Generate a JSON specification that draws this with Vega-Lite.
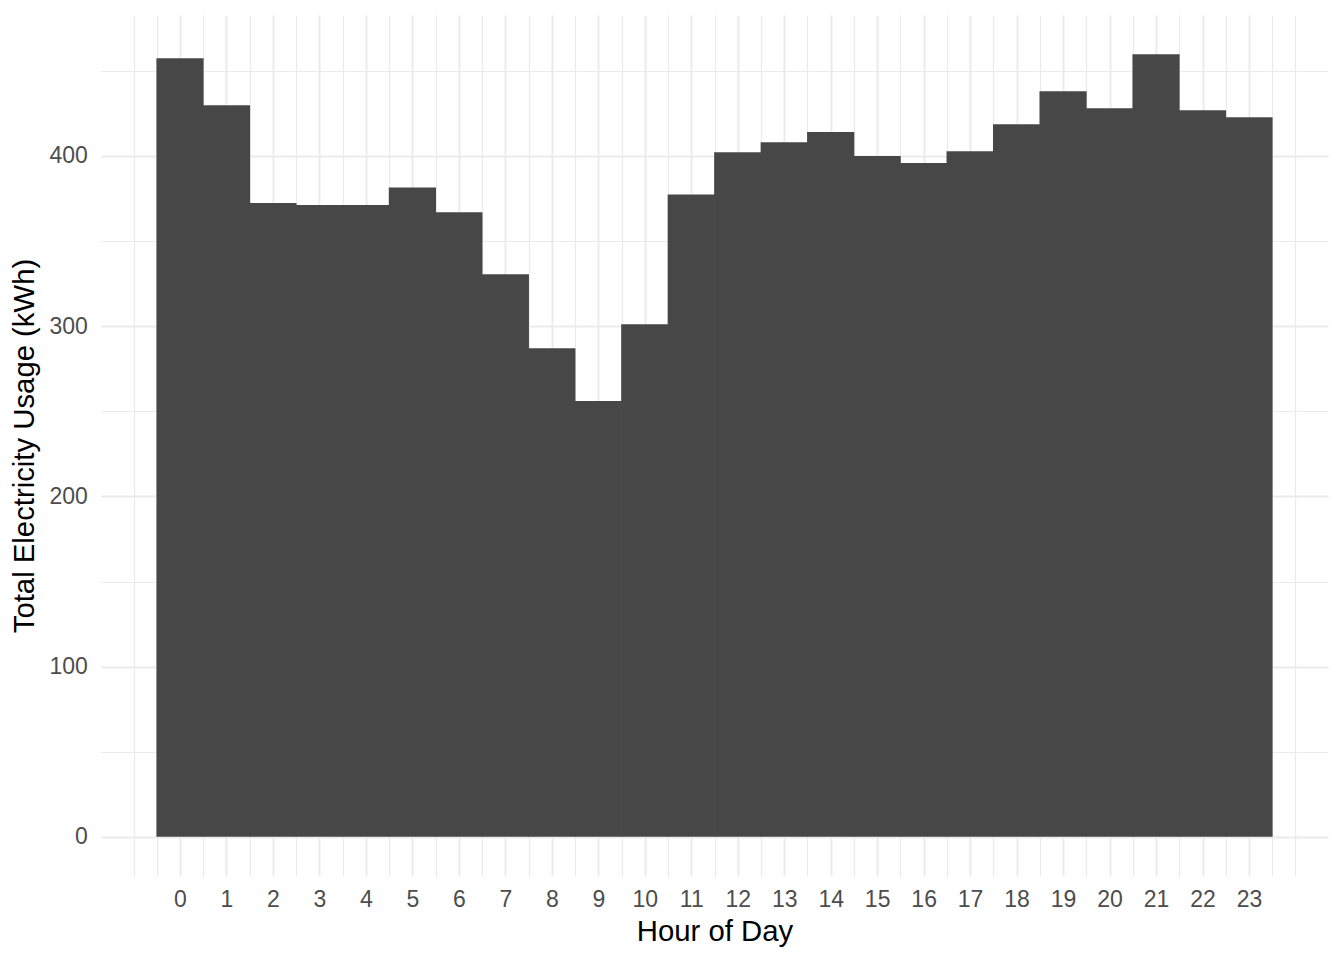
{
  "$schema": "https://vega.github.io/schema/vega-lite/v6.json",
  "autosize": "none",
  "width": 1227,
  "height": 861,
  "padding": {"left": 101, "top": 15, "right": 16, "bottom": 84},
  "background": "white",
  "config": {
    "view": {"stroke": null},
    "axis": {
      "labelFont": "Liberation Sans",
      "labelFontSize": 23,
      "labelColor": "#4D4D4D",
      "titleFont": "Liberation Sans",
      "titleFontSize": 29.3,
      "titleFontWeight": "normal",
      "titleColor": "#000000",
      "gridColor": "#EBEBEB",
      "domain": false,
      "ticks": false,
      "tickSize": 0
    }
  },
  "data": {
    "values": [
      {"hour": 0, "usage": 457.4},
      {"hour": 1, "usage": 429.8},
      {"hour": 2, "usage": 372.3},
      {"hour": 3, "usage": 371.2},
      {"hour": 4, "usage": 371.2},
      {"hour": 5, "usage": 381.5},
      {"hour": 6, "usage": 366.9},
      {"hour": 7, "usage": 330.5},
      {"hour": 8, "usage": 287.0},
      {"hour": 9, "usage": 256.1},
      {"hour": 10, "usage": 301.1},
      {"hour": 11, "usage": 377.4},
      {"hour": 12, "usage": 402.2},
      {"hour": 13, "usage": 408.1},
      {"hour": 14, "usage": 414.0},
      {"hour": 15, "usage": 400.0},
      {"hour": 16, "usage": 395.9},
      {"hour": 17, "usage": 402.8},
      {"hour": 18, "usage": 418.6},
      {"hour": 19, "usage": 438.0},
      {"hour": 20, "usage": 428.0},
      {"hour": 21, "usage": 459.7},
      {"hour": 22, "usage": 426.8},
      {"hour": 23, "usage": 422.7}
    ]
  },
  "layer": [
    {
      "mark": {"type": "point", "opacity": 0},
      "encoding": {
        "x": {
          "field": "hour", "type": "quantitative",
          "scale": {"domain": [-1.7, 24.7], "nice": false, "zero": false, "padding": 0},
          "axis": {
            "orient": "top",
            "values": [-1, -0.5, 0.5, 1.5, 2.5, 3.5, 4.5, 5.5, 6.5, 7.5, 8.5, 9.5, 10.5, 11.5, 12.5, 13.5, 14.5, 15.5, 16.5, 17.5, 18.5, 19.5, 20.5, 21.5, 22.5, 23.5, 24],
            "labels": false, "title": null, "grid": true, "gridWidth": 1.2
          }
        },
        "y": {
          "field": "usage", "type": "quantitative",
          "scale": {"domain": [-23, 482.8], "nice": false, "zero": false, "padding": 0},
          "axis": {
            "orient": "right",
            "values": [50, 150, 250, 350, 450],
            "labels": false, "title": null, "grid": true, "gridWidth": 1.2
          }
        }
      }
    },
    {
      "mark": {"type": "bar", "width": 47.2, "color": "#474747"},
      "encoding": {
        "x": {
          "field": "hour", "type": "quantitative",
          "scale": {"domain": [-1.7, 24.7], "nice": false, "zero": false, "padding": 0},
          "axis": {
            "orient": "bottom",
            "values": [0, 1, 2, 3, 4, 5, 6, 7, 8, 9, 10, 11, 12, 13, 14, 15, 16, 17, 18, 19, 20, 21, 22, 23],
            "format": "d",
            "grid": true, "gridWidth": 2,
            "labelBaseline": "alphabetic", "labelPadding": 30,
            "title": "Hour of Day",
            "titleX": 613.5, "titleY": 64, "titleBaseline": "alphabetic"
          }
        },
        "y": {
          "field": "usage", "type": "quantitative",
          "scale": {"domain": [-23, 482.8], "nice": false, "zero": false, "padding": 0},
          "axis": {
            "orient": "left",
            "values": [0, 100, 200, 300, 400],
            "format": "d",
            "grid": true, "gridWidth": 2,
            "labelPadding": 13.7,
            "title": "Total Electricity Usage (kWh)",
            "titleX": -68, "titleY": 430.5, "titleBaseline": "alphabetic", "titleAngle": 270
          }
        }
      }
    }
  ],
  "resolve": {"axis": {"x": "independent", "y": "independent"}}
}
